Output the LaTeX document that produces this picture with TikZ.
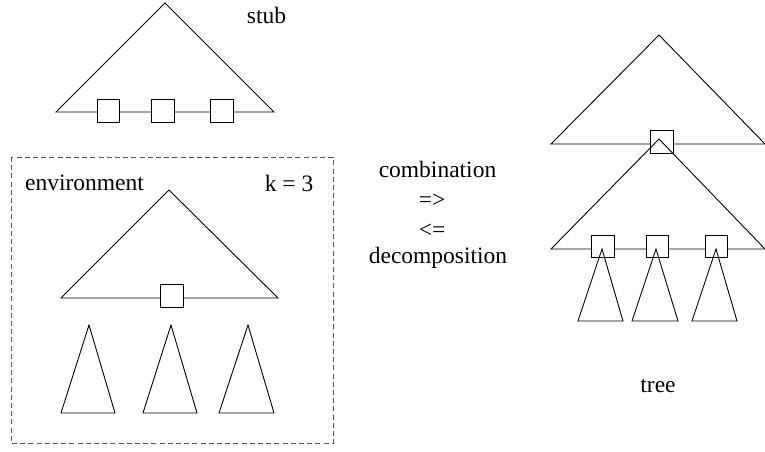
\documentclass[tikz,border=0pt]{standalone}
\usepackage{fontspec}
\setmainfont{Liberation Serif}
\begin{document}
\begin{tikzpicture}[x=1pt,y=-1pt,line width=0.9pt,
  lbl/.style={inner sep=0pt,font=\fontsize{23.5}{28}\selectfont},
  sq/.style={draw,fill=white,minimum size=22.5pt,inner sep=0pt,line width=0.9pt},
  tri/.style={draw,line join=miter}]
\useasboundingbox (0,0) rectangle (765,451);
% stub
\draw[tri] (56,112) -- (165,3) -- (274,112) -- cycle;
\node[sq] (s1) at (108.5,111) {};
\node[sq] (s2) at (162.7,111) {};
\node[sq] (s3) at (221.8,111) {};
\node[lbl] (stub) at (266.5,15) {stub};
% environment
\draw[gray!70!black,dash pattern=on 5pt off 3.2pt] (11,157) rectangle (333,443);
\node[lbl] (env) at (84.5,183) {environment};
\node[lbl] (k) at (289,183) {k = 3};
\draw[tri] (61,298) -- (169,190) -- (278,298) -- cycle;
\node[sq] (e0) at (172,296) {};
\draw[tri] (61,413) -- (89,325) -- (115,413) -- cycle;
\draw[tri] (143,413) -- (171,325) -- (197,413) -- cycle;
\draw[tri] (219,413) -- (248,325) -- (274,413) -- cycle;
% middle
\node[lbl] (comb) at (437.5,169) {combination};
\node[lbl] (ra) at (432,201) {=>};
\node[lbl] (la) at (432,231) {<=};
\node[lbl] (dec) at (438,258) {decomposition};
% tree
\draw[tri] (551,144) -- (659,35) -- (765,144) -- cycle;
\node[sq] (t0) at (662,142) {};
\draw[tri] (551,249) -- (659,139) -- (765,249) -- cycle;
\node[sq] (t1) at (602.7,246.5) {};
\node[sq] (t2) at (657.5,246.5) {};
\node[sq] (t3) at (716.3,246.5) {};
\draw[tri] (578,321) -- (602,249) -- (623,321) -- cycle;
\draw[tri] (632,321) -- (656,249) -- (678,321) -- cycle;
\draw[tri] (692,321) -- (716,249) -- (737,321) -- cycle;
\node[lbl] (tree) at (658,386) {tree};
\end{tikzpicture}
\end{document}
